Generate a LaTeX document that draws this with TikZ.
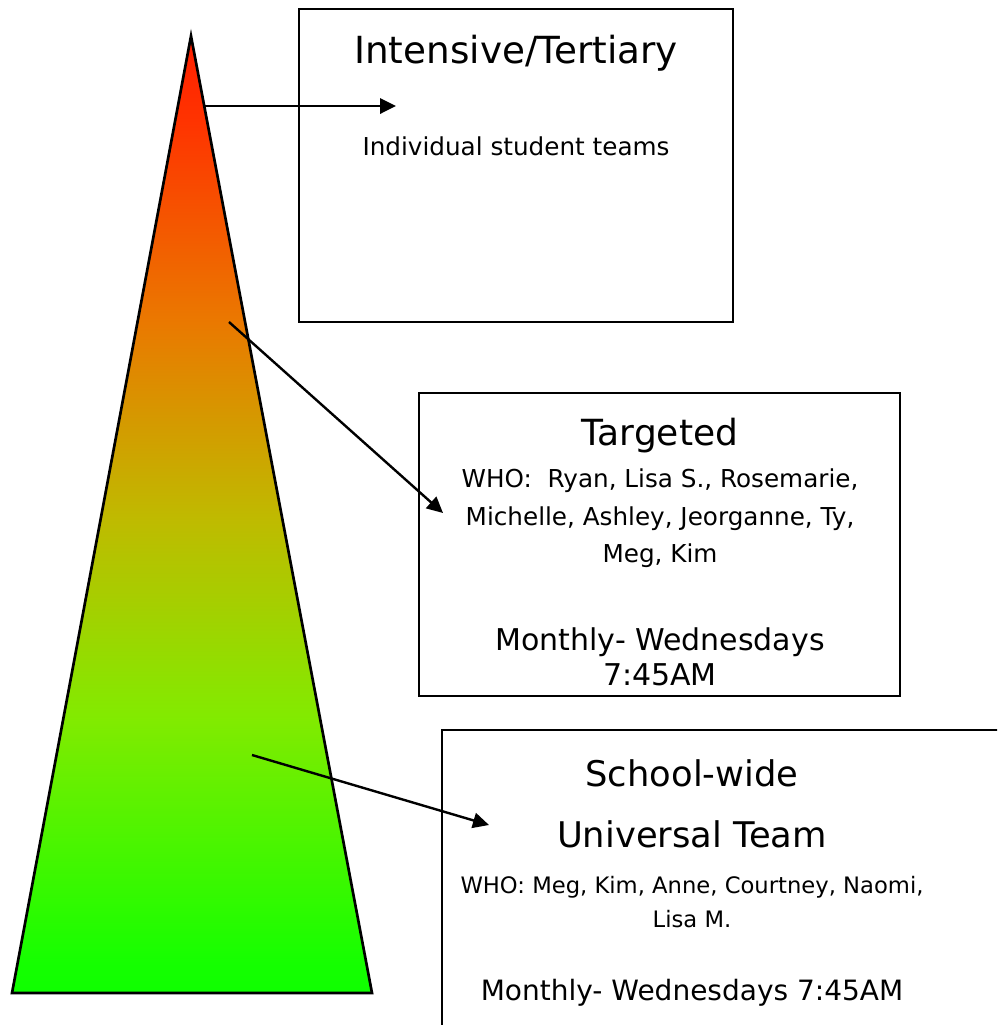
\documentclass[tikz,border=0pt]{standalone}
\usepackage{fontspec}
\setmainfont{DejaVu Sans}
\usepackage{tikz}
\usetikzlibrary{arrows.meta}

% red at the apex, green at the base
\pgfdeclareverticalshading{pyramid}{100bp}{
  rgb(0bp)=(0.06,1,0);
  rgb(25bp)=(0.06,1,0);
  rgb(26.5bp)=(0.08,1,0);
  rgb(39.4bp)=(0.51,0.92,0);
  rgb(49.8bp)=(0.75,0.73,0);
  rgb(60.2bp)=(0.92,0.47,0);
  rgb(70.6bp)=(1,0.2,0);
  rgb(75bp)=(1,0.12,0);
  rgb(100bp)=(1,0.12,0)}

\tikzset{
  infobox/.style={draw=black, line width=1pt},
  pointer/.style={-{Triangle[length=12pt,width=11.5pt]}, line width=1.8pt},
  txt/.style={anchor=base, inner sep=0pt},
}

\begin{document}
\begin{tikzpicture}[x=0.75pt, y=-0.75pt]
    \clip (0,0) rectangle (997,1025);
    \fill[white] (0,0) rectangle (997,1025);

    % the pyramid
    \shade[shading=pyramid] (191,36) -- (12,993) -- (372,993) -- cycle;
    \draw[line width=2pt, line join=miter] (191,36) -- (12,993) -- (372,993) -- cycle;

    % boxes
    \draw[infobox] (299,9) rectangle (733,322);
    \draw[infobox] (419,393) rectangle (900,696);
    \draw[infobox] (442,730) rectangle (1010,1040);

    \node[txt, font=\fontsize{28}{34}\selectfont] (tert) at (516,63) {Intensive/Tertiary};
    \node[txt, font=\fontsize{18.5}{22}\selectfont] (tertwho) at (516,155) {Individual student teams};

    \node[txt, font=\fontsize{27}{32}\selectfont] (targ) at (660,445) {Targeted};
    \node[txt, font=\fontsize{18.5}{22}\selectfont] (targwho1) at (660,487) {WHO:\ \ Ryan, Lisa S., Rosemarie,};
    \node[txt, font=\fontsize{18.5}{22}\selectfont] (targwho2) at (660,525) {Michelle, Ashley, Jeorganne, Ty,};
    \node[txt, font=\fontsize{18.5}{22}\selectfont] (targwho3) at (660,562) {Meg, Kim};
    \node[txt, font=\fontsize{22.5}{27}\selectfont] (targwhen1) at (660,650) {Monthly- Wednesdays};
    \node[txt, font=\fontsize{22.5}{27}\selectfont] (targwhen2) at (660,685) {7:45AM};

    \node[txt, font=\fontsize{26.5}{32}\selectfont] (univ1) at (692,786) {School-wide};
    \node[txt, font=\fontsize{26.5}{32}\selectfont] (univ2) at (692,847) {Universal Team};
    \node[txt, font=\fontsize{17}{20}\selectfont] (univwho1) at (692,893) {WHO: Meg, Kim, Anne, Courtney, Naomi,};
    \node[txt, font=\fontsize{17}{20}\selectfont] (univwho2) at (692,927) {Lisa M.};
    \node[txt, font=\fontsize{21}{25}\selectfont] (univwhen) at (692,1000) {Monthly- Wednesdays 7:45AM};

    % pointers from the pyramid
    \coordinate (topfrom) at (205,106);
    \coordinate (topto) at (396,106);
    \coordinate (midfrom) at (229,322);
    \coordinate (midto) at (443,513);
    \coordinate (lowfrom) at (252,755);
    \coordinate (lowto) at (489,825);

    \draw[pointer] (topfrom) -- (topto);
    \draw[pointer] (midfrom) -- (midto);
    \draw[pointer] (lowfrom) -- (lowto);
\end{tikzpicture}
\end{document}
